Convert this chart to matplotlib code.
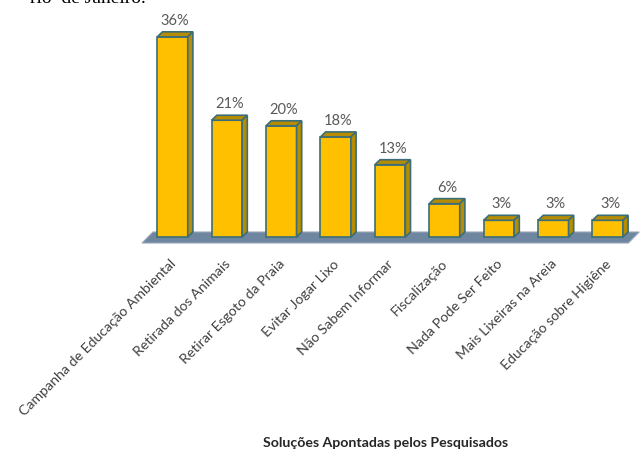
import matplotlib.pyplot as plt
from matplotlib.patches import Polygon

categorias = ["Campanha de Educação Ambiental", "Retirada dos Animais", "Retirar Esgoto da Praia",
              "Evitar Jogar Lixo", "Não Sabem Informar", "Fiscalização", "Nada Pode Ser Feito",
              "Mais Lixeiras na Areia", "Educação sobre Higiêne"]
valores = [36, 21, 20, 18, 13, 6, 3, 3, 3]
rotulos = ["36%", "21%", "20%", "18%", "13%", "6%", "3%", "3%", "3%"]

plt.rcParams['font.family'] = ['Lato', 'DejaVu Sans']

W, H = 641, 450
fig = plt.figure(figsize=(W / 100, H / 100), dpi=100)

# axes placed in pixels: category i centred at 172.5 + 54.4*i, value v at 237 - 5.56*v
ax_l, ax_r, ax_t, ax_b = 130, 641, 0, 250
ax = fig.add_axes([ax_l / W, 1 - ax_b / H, (ax_r - ax_l) / W, (ax_b - ax_t) / H])
ax.set_xlim((ax_l - 172.5) / 54.4, (ax_r - 172.5) / 54.4)
ax.set_ylim((237 - ax_b) / 5.56, (237 - ax_t) / 5.56)
ax.axis('off')

frente = '#FFC000'
sombra = '#B88C00'
borda = '#3B6E78'
meia = 0.28   # half bar width
dx, dy = 0.095, 0.9  # depth offset

# floor
piso = Polygon([(-0.56, -1.08), (-0.36, 0.9), (8.58, 0.9), (8.38, -1.08)],
               closed=True, facecolor='#6F86A0', edgecolor='#9AA8B8', lw=0.8, zorder=1)
ax.add_patch(piso)

for i, v in enumerate(valores):
    x0, x1 = i - meia, i + meia
    ax.bar(i, v, width=2 * meia, color=frente, edgecolor=borda, lw=1.2, zorder=3)
    topo = Polygon([(x0, v), (x0 + dx, v + dy), (x1 + dx, v + dy), (x1, v)],
                   closed=True, facecolor=sombra, edgecolor=borda, lw=1.2, zorder=3)
    lado = Polygon([(x1, 0), (x1 + dx, dy), (x1 + dx, v + dy), (x1, v)],
                   closed=True, facecolor=sombra, edgecolor=borda, lw=1.2, zorder=3)
    ax.add_patch(topo)
    ax.add_patch(lado)
    ax.text(i + dx / 2, v + dy + 2.0, rotulos[i], ha='center', va='center',
            fontsize=10.5, color='#595959', zorder=4)
    ax.text(i + 0.02, -4.5, categorias[i], rotation=45, rotation_mode='anchor',
            ha='right', va='center', fontsize=10.2, color='#404040', clip_on=False)

fig.text(386 / W, 1 - 443 / H, "Soluções Apontadas pelos Pesquisados", ha='center', va='center',
         fontsize=10.2, fontweight='bold', color='#262626')

# line of body text running above the chart
fig.text(30 / W, 1 - 3 / H, "rio  de Janeiro.", ha='left', va='baseline',
         family='Liberation Serif', fontsize=14, color='black')

fig.savefig('out.png', dpi=100)
